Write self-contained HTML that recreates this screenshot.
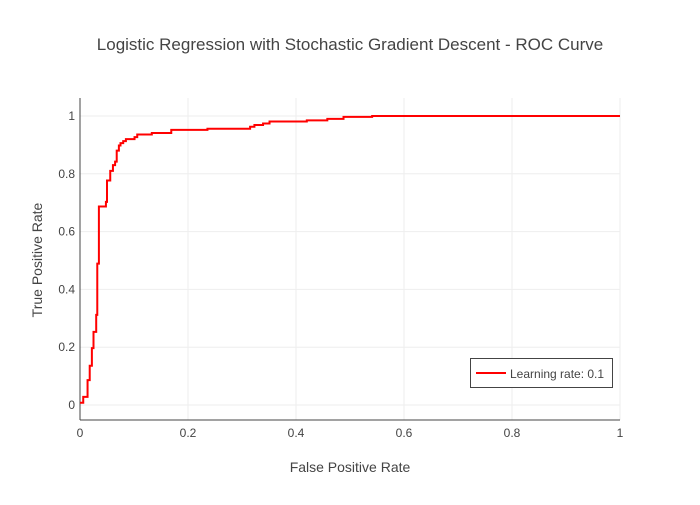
<!DOCTYPE html>
<html><head><meta charset="utf-8"><style>
body{margin:0;background:#fff;font-family:"Liberation Sans",sans-serif}
svg text{font-family:"Liberation Sans",sans-serif;fill:#444}
</style></head><body>
<svg id="chart" width="700" height="500">
<text x="350" y="50" text-anchor="middle" font-size="17">Logistic Regression with Stochastic Gradient Descent - ROC Curve</text>
<g id="grid"></g><g id="ticks"></g>
<line x1="80" y1="98" x2="80" y2="420" stroke="#444" stroke-width="1"/>
<line x1="80" y1="420" x2="620" y2="420" stroke="#444" stroke-width="1"/>
<path id="roc" fill="none" stroke="#ff0000" stroke-width="2"/>
<text x="350" y="472" text-anchor="middle" font-size="14">False Positive Rate</text>
<text x="0" y="0" transform="translate(42,260) rotate(-90)" text-anchor="middle" font-size="14">True Positive Rate</text>
<g>
<rect x="470.5" y="358.5" width="142" height="29" fill="#fff" stroke="#444" stroke-width="1"/>
<line x1="476" y1="373" x2="506" y2="373" stroke="#ff0000" stroke-width="2"/>
<text x="510" y="378" font-size="12">Learning rate: 0.1</text>
</g>
</svg>
<script>
const fpr=[0,0.006,0.014,0.018,0.022,0.025,0.030,0.032,0.035,0.048,0.050,0.056,0.061,0.065,0.068,0.072,0.075,0.080,0.085,0.101,0.106,0.133,0.169,0.236,0.315,0.323,0.339,0.351,0.420,0.458,0.488,0.541,1];
const tpr=[0.008,0.028,0.086,0.136,0.197,0.253,0.312,0.489,0.687,0.703,0.777,0.810,0.830,0.842,0.880,0.898,0.906,0.913,0.920,0.927,0.936,0.941,0.952,0.956,0.963,0.969,0.974,0.981,0.985,0.990,0.997,1,1];
const xTicks=[0,0.2,0.4,0.6,0.8,1];
const xTickLabels=["0","0.2","0.4","0.6","0.8","1"];
const yTicks=[0,0.2,0.4,0.6,0.8,1];
const yTickLabels=["0","0.2","0.4","0.6","0.8","1"];
const X=v=>80+v*540, Y=v=>405-v*289;
const NS="http://www.w3.org/2000/svg";
const grid=document.getElementById('grid'), ticks=document.getElementById('ticks');
xTicks.forEach((t,i)=>{
  if(t>0){const l=document.createElementNS(NS,'line');
  l.setAttribute('x1',X(t));l.setAttribute('x2',X(t));l.setAttribute('y1',98);l.setAttribute('y2',420);
  l.setAttribute('stroke','#eee');
  
  
  grid.appendChild(l);}
  const tx=document.createElementNS(NS,'text');
  tx.setAttribute('x',X(t));tx.setAttribute('y',437);tx.setAttribute('text-anchor','middle');tx.setAttribute('font-size','12');
  tx.textContent=xTickLabels[i];
  
  
  ticks.appendChild(tx);
});
yTicks.forEach((t,i)=>{
  const l=document.createElementNS(NS,'line');
  l.setAttribute('x1',80);l.setAttribute('x2',620);l.setAttribute('y1',Y(t));l.setAttribute('y2',Y(t));
  l.setAttribute('stroke','#eee');
  
  
  grid.appendChild(l);
  const tx=document.createElementNS(NS,'text');
  tx.setAttribute('x',75);tx.setAttribute('y',Y(t)+4);tx.setAttribute('text-anchor','end');tx.setAttribute('font-size','12');
  tx.textContent=yTickLabels[i];
  
  
  ticks.appendChild(tx);
});
let d='M'+X(fpr[0])+','+Y(tpr[0]);
for(let i=1;i<fpr.length;i++){d+=' H'+X(fpr[i])+' V'+Y(tpr[i]);}
document.getElementById('roc').setAttribute('d',d);
</script>
</body></html>
